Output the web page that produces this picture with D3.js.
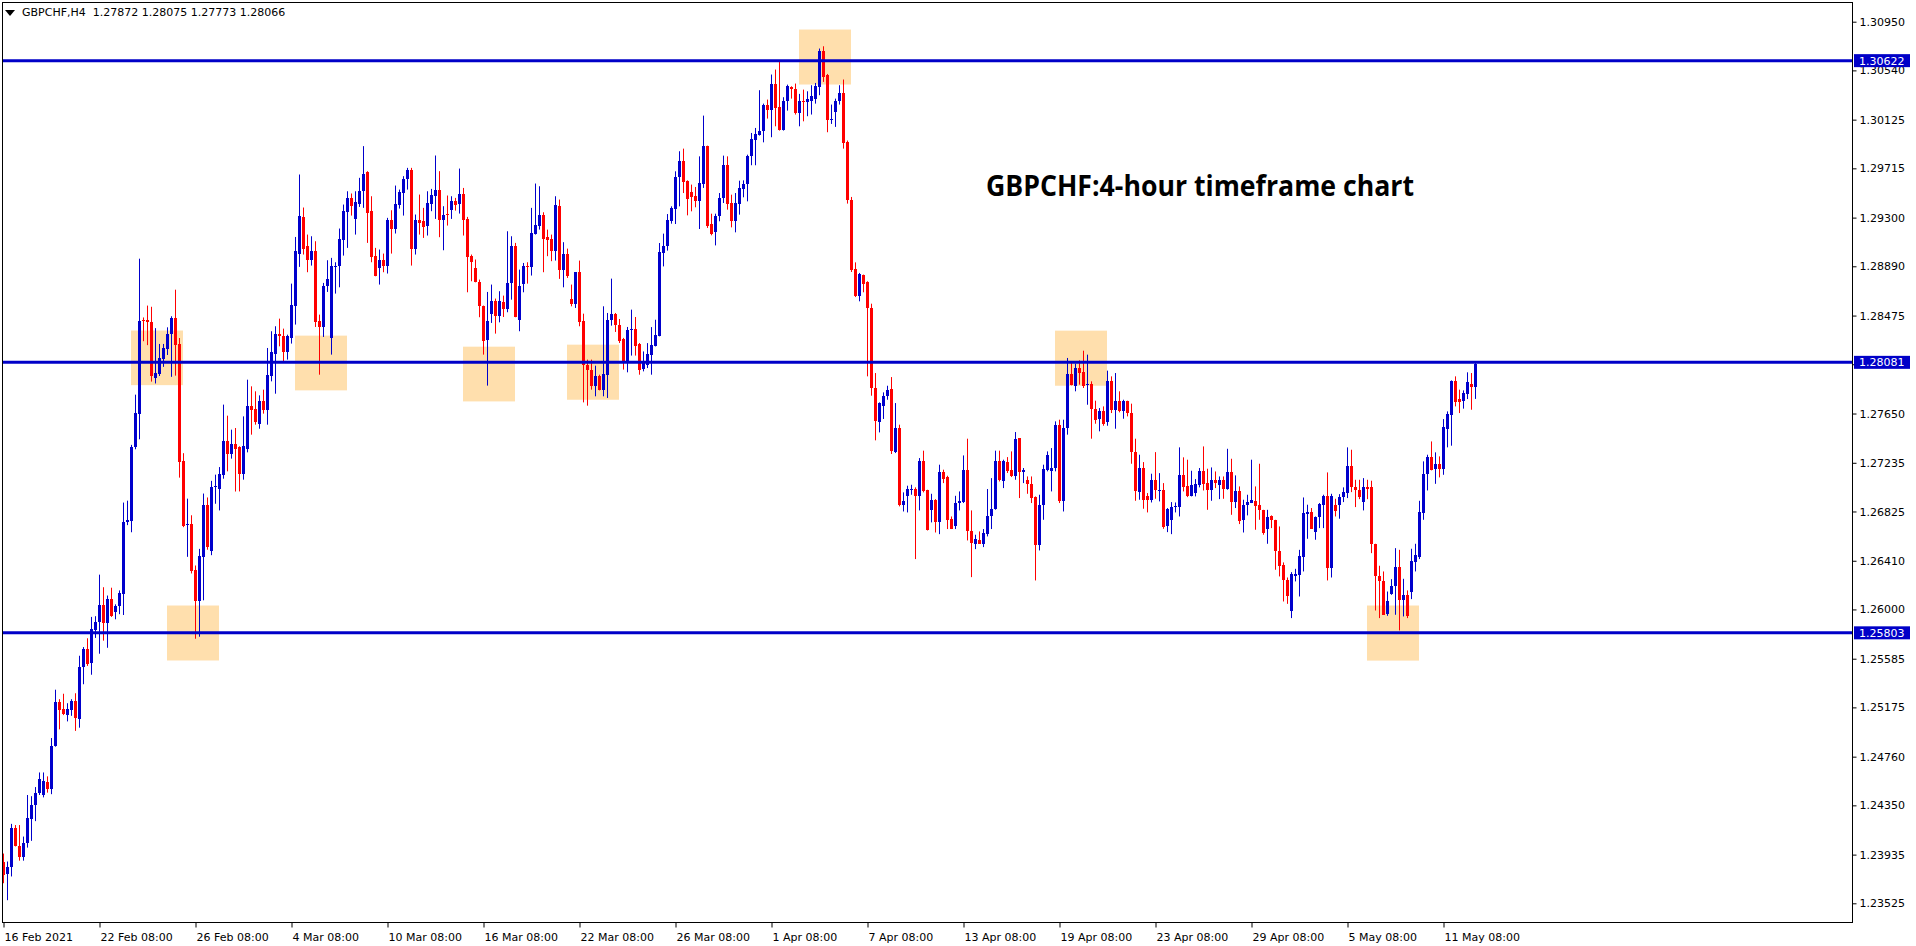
<!DOCTYPE html>
<html><head><meta charset="utf-8">
<script src="https://cdn.jsdelivr.net/npm/d3@7"></script>
<style>
html,body{margin:0;padding:0;background:#fff;overflow:hidden}
svg{display:block}
</style></head>
<body>
<svg id="chart" width="1916" height="946"></svg>
<script>
// ---- Data (GBPCHF H4) ----
const opens = [
1.23877,1.23771,1.23828,1.24161,1.24004,1.23911,1.24037,1.24237,1.24351,1.24451,
1.24437,1.24544,1.24491,1.24850,1.25217,1.25160,1.25110,1.25157,1.25230,1.25077,
1.25517,1.25667,1.25550,1.25827,1.25893,1.26040,1.25883,1.26090,1.25977,1.26033,
1.26133,1.26736,1.26743,1.27366,1.27643,1.28436,1.28436,1.28419,1.27953,1.27986,
1.28109,1.28193,1.28316,1.28452,1.28236,1.27253,1.26713,1.26716,1.26333,1.26073,
1.26443,1.26883,1.26493,1.27028,1.27017,1.27135,1.27421,1.27312,1.27396,1.27365,
1.27143,1.27354,1.27711,1.27691,1.27565,1.27753,1.27683,1.27969,1.28155,1.28323,
1.28306,1.28166,1.28286,1.28559,1.28997,1.29303,1.29064,1.28941,1.29017,1.28427,
1.28376,1.28727,1.28286,1.28890,1.28890,1.29115,1.29345,1.29461,1.29289,1.29418,
1.29522,1.29682,1.29354,1.28980,1.28876,1.28947,1.28896,1.29278,1.29208,1.29410,
1.29508,1.29629,1.29705,1.29039,1.29278,1.29270,1.29227,1.29418,1.29486,1.29536,
1.29278,1.29334,1.29362,1.29438,1.29418,1.29503,1.29292,1.28975,1.28876,1.28758,
1.28559,1.28267,1.28491,1.28595,1.28469,1.28590,1.28534,1.28750,1.29064,1.28435,
1.28744,1.28896,1.28885,1.29166,1.29233,1.29326,1.29135,1.29121,1.29017,1.29402,
1.28862,1.28997,1.28618,1.28576,1.28840,1.28427,1.28062,1.28014,1.27879,1.27963,
1.27851,1.27977,1.28435,1.28491,1.28399,1.28281,1.28076,1.28351,1.28365,1.28236,
1.28027,1.28061,1.28145,1.28221,1.28300,1.29002,1.29058,1.29274,1.29373,1.29640,
1.29780,1.29606,1.29516,1.29485,1.29443,1.29586,1.29906,1.29246,1.29176,1.29311,
1.29465,1.29746,1.29423,1.29269,1.29418,1.29544,1.29583,1.29816,1.29957,1.29993,
1.30027,1.30252,1.30204,1.30429,1.30229,1.30041,1.30280,1.30398,1.30387,1.30182,
1.30286,1.30271,1.30280,1.30302,1.30398,1.30701,1.30499,1.30123,1.30187,1.30280,
1.30350,1.29934,1.29451,1.28870,1.28643,1.28820,1.28755,1.28539,1.27865,1.27575,
1.27716,1.27794,1.27856,1.27325,1.27528,1.26882,1.26952,1.27002,1.27017,1.26958,
1.27247,1.27008,1.26834,1.26924,1.26733,1.27154,1.27112,1.26761,1.26705,1.26896,
1.26901,1.27171,1.26662,1.26553,1.26581,1.26553,1.26637,1.26783,1.26845,1.27247,
1.27078,1.27238,1.27171,1.27120,1.27443,1.27157,1.27092,1.27059,1.26946,1.26539,
1.26876,1.27177,1.27163,1.27191,1.27550,1.26910,1.27528,1.27985,1.27879,1.28033,
1.27999,1.27887,1.27901,1.27691,1.27603,1.27674,1.27575,1.27921,1.27677,1.27758,
1.27668,1.27752,1.27654,1.27325,1.26986,1.27191,1.26957,1.26924,1.27092,1.26994,
1.27008,1.26699,1.26750,1.26859,1.26859,1.27134,1.27036,1.26952,1.26980,1.27050,
1.27168,1.27064,1.27002,1.27092,1.27050,1.27092,1.27016,1.27160,1.26901,1.27000,
1.26750,1.26882,1.26896,1.26915,1.26876,1.26834,1.26679,1.26783,1.26755,1.26494,
1.26376,1.26250,1.25983,1.26283,1.26292,1.26438,1.26806,1.26817,1.26648,1.26775,
1.26876,1.26952,1.26353,1.26876,1.26876,1.26943,1.26980,1.27205,1.27030,1.27008,
1.26901,1.27028,1.27028,1.26553,1.26283,1.26241,1.25963,1.26129,1.26194,1.26356,
1.26081,1.26123,1.26151,1.26396,1.26441,1.26811,1.27143,1.27280,1.27185,1.27227,
1.27185,1.27522,1.27640,1.27921,1.27775,1.27752,1.27817,1.27901,1.27872];

const highs = [
1.23944,1.23877,1.24194,1.24184,1.24184,1.24087,1.24437,1.24427,1.24504,1.24627,
1.24627,1.24594,1.24917,1.25324,1.25244,1.25290,1.25210,1.25244,1.25294,1.25610,
1.25683,1.25757,1.25937,1.25943,1.26293,1.26187,1.26117,1.26183,1.26043,1.26160,
1.26900,1.26916,1.27386,1.27809,1.28954,1.28459,1.28559,1.28549,1.28369,1.28236,
1.28236,1.28376,1.28469,1.28693,1.28286,1.27316,1.26933,1.26793,1.26370,1.26510,
1.26976,1.26943,1.27083,1.27135,1.27199,1.27725,1.27632,1.27514,1.27528,1.27374,
1.27626,1.27935,1.27879,1.27837,1.27803,1.27851,1.28202,1.28343,1.28385,1.28449,
1.28365,1.28314,1.28744,1.29137,1.29663,1.29385,1.29157,1.29143,1.29101,1.28483,
1.28750,1.28941,1.28961,1.28924,1.29208,1.29410,1.29522,1.29503,1.29522,1.29635,
1.29902,1.29691,1.29480,1.29045,1.29031,1.28997,1.29298,1.29362,1.29570,1.29536,
1.29649,1.29719,1.29719,1.29326,1.29494,1.29382,1.29522,1.29542,1.29823,1.29691,
1.29396,1.29486,1.29480,1.29466,1.29713,1.29550,1.29306,1.28989,1.28947,1.28778,
1.28559,1.28674,1.28736,1.28618,1.28680,1.28643,1.29185,1.29143,1.29087,1.28862,
1.28918,1.28924,1.29382,1.29587,1.29564,1.29345,1.29199,1.29157,1.29480,1.29452,
1.29093,1.29039,1.28736,1.28840,1.28938,1.28491,1.28104,1.28104,1.28053,1.27977,
1.28553,1.28497,1.28786,1.28497,1.28446,1.28287,1.28379,1.28525,1.28463,1.28244,
1.28173,1.28243,1.28378,1.28440,1.29086,1.29165,1.29330,1.29395,1.29690,1.29859,
1.29881,1.29614,1.29578,1.29558,1.29816,1.30159,1.29906,1.29333,1.29333,1.29507,
1.29822,1.29816,1.29493,1.29507,1.29611,1.29614,1.29830,1.30013,1.30055,1.30373,
1.30260,1.30294,1.30505,1.30547,1.30623,1.30314,1.30420,1.30406,1.30429,1.30342,
1.30378,1.30364,1.30415,1.30434,1.30724,1.30743,1.30510,1.30252,1.30302,1.30415,
1.30463,1.29949,1.29474,1.28923,1.28834,1.28820,1.28764,1.28575,1.27991,1.27744,
1.27828,1.27884,1.27957,1.27738,1.27556,1.26986,1.27042,1.27050,1.27028,1.27275,
1.27337,1.27008,1.26974,1.26929,1.27219,1.27177,1.27126,1.26783,1.26957,1.26994,
1.27297,1.27438,1.26834,1.26629,1.26657,1.26677,1.27014,1.27106,1.27337,1.27337,
1.27261,1.27283,1.27331,1.27494,1.27443,1.27191,1.27120,1.27120,1.26952,1.26966,
1.27219,1.27331,1.27359,1.27584,1.27598,1.27598,1.28118,1.28075,1.28070,1.28098,
1.28179,1.28146,1.27921,1.27758,1.27696,1.27710,1.28011,1.27963,1.27991,1.27837,
1.27766,1.27758,1.27733,1.27438,1.27303,1.27241,1.26980,1.27143,1.27325,1.27148,
1.27064,1.26854,1.26904,1.26901,1.27365,1.27281,1.27261,1.27168,1.27098,1.27191,
1.27373,1.27185,1.27196,1.27162,1.27120,1.27120,1.27353,1.27269,1.27129,1.27036,
1.26924,1.26966,1.27261,1.27036,1.27227,1.26839,1.26839,1.26792,1.26755,1.26699,
1.26396,1.26269,1.26314,1.26342,1.26502,1.26943,1.26882,1.26854,1.26783,1.26896,
1.26966,1.27154,1.26974,1.26932,1.26971,1.27028,1.27365,1.27345,1.27092,1.27092,
1.27106,1.27092,1.27084,1.26553,1.26368,1.26320,1.26151,1.26255,1.26516,1.26502,
1.26258,1.26160,1.26511,1.26553,1.26915,1.27247,1.27303,1.27415,1.27323,1.27289,
1.27603,1.27668,1.27929,1.27963,1.27851,1.27845,1.27997,1.27991,1.28075];

const lows = [
1.23694,1.23551,1.23751,1.24004,1.23884,1.23884,1.23994,1.24051,1.24217,1.24437,
1.24417,1.24457,1.24444,1.24844,1.24990,1.25110,1.25057,1.25104,1.24977,1.25004,
1.25370,1.25524,1.25450,1.25760,1.25627,1.25737,1.25677,1.25937,1.25917,1.25960,
1.25953,1.26710,1.26650,1.27349,1.27433,1.28259,1.28226,1.27919,1.27903,1.27966,
1.28043,1.28143,1.27959,1.27969,1.27110,1.26693,1.26443,1.26303,1.25753,1.25770,
1.26077,1.26503,1.26457,1.26890,1.26834,1.27101,1.27163,1.27270,1.26993,1.26994,
1.27093,1.27323,1.27472,1.27556,1.27522,1.27649,1.27556,1.27921,1.27817,1.28216,
1.28090,1.28104,1.28239,1.28399,1.28885,1.28989,1.28840,1.28896,1.28379,1.27977,
1.28295,1.28674,1.28146,1.28660,1.28713,1.28980,1.29045,1.29317,1.29157,1.29390,
1.29382,1.29087,1.28924,1.28806,1.28736,1.28840,1.28829,1.28997,1.29166,1.29376,
1.29317,1.29536,1.28896,1.28989,1.29157,1.29129,1.29149,1.29354,1.29289,1.29135,
1.29025,1.29233,1.29289,1.29359,1.29334,1.29149,1.28671,1.28764,1.28755,1.28461,
1.28146,1.27885,1.28413,1.28323,1.28418,1.28463,1.28503,1.28609,1.28461,1.28343,
1.28671,1.28744,1.28812,1.29157,1.29199,1.28840,1.28975,1.28933,1.28938,1.28784,
1.28713,1.28792,1.28553,1.28539,1.28385,1.27744,1.27716,1.27851,1.27795,1.27845,
1.27795,1.27781,1.28390,1.28337,1.28244,1.28020,1.27997,1.28138,1.28138,1.27977,
1.28005,1.28033,1.27977,1.28215,1.28300,1.28889,1.29022,1.29249,1.29246,1.29395,
1.29507,1.29319,1.29353,1.29387,1.29204,1.29550,1.29213,1.29151,1.29066,1.29269,
1.29423,1.29367,1.29218,1.29176,1.29325,1.29471,1.29437,1.29741,1.29741,1.29991,
1.29934,1.30134,1.29977,1.30069,1.30033,1.30033,1.30201,1.30302,1.30168,1.30069,
1.30111,1.30154,1.30168,1.30260,1.30331,1.30443,1.30019,1.30089,1.30064,1.30252,
1.29881,1.29418,1.28842,1.28631,1.28595,1.28671,1.27963,1.27800,1.27424,1.27491,
1.27604,1.27766,1.27309,1.27317,1.26868,1.26825,1.26817,1.26966,1.26424,1.26834,
1.26986,1.26665,1.26733,1.26648,1.26634,1.27064,1.26677,1.26677,1.26677,1.26834,
1.26896,1.26581,1.26272,1.26508,1.26553,1.26525,1.26615,1.26677,1.26840,1.27078,
1.27022,1.27149,1.27115,1.27092,1.26938,1.27064,1.26974,1.26896,1.26244,1.26497,
1.26755,1.27163,1.26994,1.27163,1.26896,1.26825,1.27472,1.27887,1.27837,1.27893,
1.27865,1.27724,1.27438,1.27564,1.27500,1.27547,1.27547,1.27654,1.27522,1.27660,
1.27606,1.27626,1.27227,1.26915,1.26924,1.26848,1.26817,1.26901,1.26932,1.26910,
1.26679,1.26651,1.26634,1.26817,1.26783,1.26994,1.26946,1.26952,1.26952,1.27028,
1.27002,1.26839,1.26915,1.27022,1.26929,1.26932,1.27008,1.26797,1.26854,1.26719,
1.26648,1.26792,1.26896,1.26671,1.26755,1.26629,1.26553,1.26685,1.26334,1.26278,
1.26067,1.26047,1.25927,1.26236,1.26109,1.26320,1.26595,1.26679,1.26587,1.26685,
1.26685,1.26244,1.26269,1.26783,1.26764,1.26904,1.26938,1.26988,1.26862,1.26929,
1.26834,1.26929,1.26474,1.25991,1.25927,1.25955,1.25946,1.26123,1.25955,1.25823,
1.25941,1.25927,1.26087,1.26320,1.26424,1.26755,1.27002,1.27171,1.27058,1.27112,
1.27134,1.27365,1.27379,1.27710,1.27654,1.27691,1.27772,1.27682,1.27773];

const closes = [
1.23761,1.23828,1.24161,1.24011,1.23911,1.24037,1.24244,1.24351,1.24451,1.24571,
1.24557,1.24491,1.24850,1.25217,1.25157,1.25117,1.25160,1.25230,1.25084,1.25517,
1.25667,1.25537,1.25837,1.25893,1.26040,1.25883,1.26090,1.25943,1.26027,1.26140,
1.26736,1.26750,1.27369,1.27656,1.28432,1.28426,1.28422,1.27966,1.27993,1.28116,
1.28202,1.28322,1.28452,1.28226,1.27243,1.26700,1.26723,1.26327,1.26067,1.26450,
1.26883,1.26523,1.27033,1.27036,1.27140,1.27421,1.27312,1.27396,1.27354,1.27143,
1.27374,1.27711,1.27683,1.27579,1.27753,1.27683,1.27977,1.28166,1.28323,1.28306,
1.28166,1.28300,1.28567,1.29017,1.29312,1.29039,1.28947,1.29017,1.28418,1.28376,
1.28727,1.28786,1.28896,1.28896,1.29124,1.29354,1.29461,1.29402,1.29430,1.29528,
1.29671,1.29340,1.28969,1.28806,1.28947,1.28896,1.29278,1.29208,1.29418,1.29514,
1.29629,1.29705,1.29039,1.29278,1.29255,1.29222,1.29424,1.29494,1.29536,1.29278,
1.29326,1.29320,1.29438,1.29410,1.29503,1.29278,1.28966,1.28924,1.28755,1.28553,
1.28264,1.28427,1.28595,1.28469,1.28595,1.28534,1.28750,1.29064,1.28461,1.28727,
1.28896,1.28882,1.29171,1.29241,1.29326,1.29121,1.29115,1.29017,1.29410,1.28862,
1.28997,1.28806,1.28576,1.28840,1.28418,1.28056,1.28014,1.27879,1.27963,1.27851,
1.27986,1.28441,1.28491,1.28393,1.28264,1.28076,1.28357,1.28365,1.28222,1.28014,
1.28075,1.28151,1.28229,1.28314,1.29010,1.29064,1.29283,1.29381,1.29642,1.29780,
1.29600,1.29457,1.29471,1.29443,1.29592,1.29906,1.29232,1.29162,1.29316,1.29465,
1.29746,1.29418,1.29274,1.29423,1.29550,1.29583,1.29822,1.29965,1.30007,1.30033,
1.30252,1.30204,1.30429,1.30224,1.30041,1.30286,1.30406,1.30384,1.30182,1.30286,
1.30271,1.30302,1.30322,1.30406,1.30701,1.30485,1.30125,1.30134,1.30286,1.30350,
1.29929,1.29446,1.28856,1.28642,1.28825,1.28741,1.28539,1.27865,1.27584,1.27738,
1.27800,1.27851,1.27331,1.27528,1.26876,1.26910,1.27014,1.27017,1.26952,1.27247,
1.26994,1.26665,1.26924,1.26733,1.27154,1.27101,1.26755,1.26677,1.26896,1.26910,
1.27171,1.26657,1.26558,1.26592,1.26553,1.26643,1.26789,1.26845,1.27247,1.27087,
1.27247,1.27163,1.27120,1.27438,1.27157,1.27177,1.27056,1.26938,1.26539,1.26882,
1.27185,1.27303,1.27191,1.27550,1.26910,1.27528,1.27985,1.27893,1.28033,1.27991,
1.27879,1.27901,1.27691,1.27598,1.27674,1.27564,1.27927,1.27682,1.27752,1.27668,
1.27752,1.27654,1.27323,1.26994,1.27191,1.26918,1.26918,1.27092,1.27002,1.27008,
1.26693,1.26845,1.26862,1.26868,1.27134,1.27028,1.26952,1.27050,1.27056,1.27162,
1.27059,1.27002,1.27092,1.27064,1.27092,1.27016,1.27160,1.26901,1.27000,1.26741,
1.26882,1.26904,1.26924,1.26868,1.26834,1.26643,1.26775,1.26750,1.26488,1.26370,
1.26244,1.26109,1.26300,1.26300,1.26446,1.26811,1.26820,1.26679,1.26778,1.26887,
1.26952,1.26353,1.26952,1.26825,1.26943,1.26985,1.27205,1.27030,1.27002,1.26946,
1.27028,1.27016,1.26550,1.26278,1.26236,1.25955,1.26073,1.26199,1.26356,1.26081,
1.26123,1.25941,1.26404,1.26460,1.26817,1.27143,1.27280,1.27171,1.27227,1.27185,
1.27533,1.27648,1.27921,1.27744,1.27747,1.27823,1.27912,1.27873,1.28066];

const xLabels = ["16 Feb 2021","22 Feb 08:00","26 Feb 08:00","4 Mar 08:00","10 Mar 08:00","16 Mar 08:00",
  "22 Mar 08:00","26 Mar 08:00","1 Apr 08:00","7 Apr 08:00","13 Apr 08:00","19 Apr 08:00",
  "23 Apr 08:00","29 Apr 08:00","5 May 08:00","11 May 08:00"];
const xLabelBars = [0,24,48,72,96,120,144,168,192,216,240,264,288,312,336,360];
const yTicks = [1.30950,1.30540,1.30125,1.29715,1.29300,1.28890,1.28475,1.28065,1.27650,1.27235,
  1.26825,1.26410,1.26000,1.25585,1.25175,1.24760,1.24350,1.23935,1.23525];
const levels = [1.30622, 1.28081, 1.25803];
// highlighted zones: [fromBar, toBar, topPrice, bottomPrice]
const zoneFrom = [32, 41, 73, 115, 141, 199, 263, 341];
const zoneTo   = [45, 54, 86, 128, 154, 212, 276, 354];
const zoneTop  = [1.28349, 1.26033, 1.28306, 1.28213, 1.28230, 1.30884, 1.28348, 1.26033];
const zoneBot  = [1.27889, 1.25570, 1.27845, 1.27752, 1.27766, 1.30421, 1.27884, 1.25569];
const symbolText = "GBPCHF,H4  1.27872 1.28075 1.27773 1.28066";
const titleText = "GBPCHF:4-hour timeframe chart";

// ---- Layout ----
const W = 1916, H = 946;
const plot = {left: 2, top: 2, right: 1852, bottom: 922};
const BLUE = "#0000CC", RED = "#FF0000", LINE = "#0000C8";
const AXFONT = "'DejaVu Sans', Verdana, sans-serif";

const svg = d3.select("#chart");
const x = d3.scaleLinear().domain([0, 368]).range([3, 1475]);
const y = d3.scaleLinear().domain([1.23525, 1.30950]).range([903.3, 21.7]);

svg.append("rect").attr("width", W).attr("height", H).attr("fill", "#fff");

const clip = svg.append("clipPath").attr("id", "pclip").append("rect")
  .attr("x", plot.left).attr("y", plot.top)
  .attr("width", plot.right - plot.left).attr("height", plot.bottom - plot.top);

const g = svg.append("g").attr("clip-path", "url(#pclip)");

// zones
g.selectAll("rect.zone").data(zoneFrom).join("rect")
  .attr("x", (d, i) => x(zoneFrom[i]))
  .attr("width", (d, i) => x(zoneTo[i]) - x(zoneFrom[i]))
  .attr("y", (d, i) => y(zoneTop[i]))
  .attr("height", (d, i) => y(zoneBot[i]) - y(zoneTop[i]))
  .attr("fill", "#FFDFAD");

// candles
const idx = d3.range(opens.length);
const col = i => closes[i] >= opens[i] ? BLUE : RED;
g.selectAll("line.wick").data(idx).join("line")
  .attr("x1", i => Math.round(x(i)) + 0.5).attr("x2", i => Math.round(x(i)) + 0.5)
  .attr("y1", i => y(highs[i])).attr("y2", i => y(lows[i]))
  .attr("stroke", col).attr("stroke-width", 1);
g.selectAll("rect.body").data(idx).join("rect")
  .attr("x", i => Math.round(x(i)) - 1)
  .attr("width", 3)
  .attr("y", i => y(Math.max(opens[i], closes[i])))
  .attr("height", i => Math.max(1, Math.abs(y(opens[i]) - y(closes[i]))))
  .attr("fill", col).attr("shape-rendering", "crispEdges");

// horizontal levels
g.selectAll("line.level").data(levels).join("line")
  .attr("x1", plot.left).attr("x2", plot.right)
  .attr("y1", d => y(d)).attr("y2", d => y(d))
  .attr("stroke", LINE).attr("stroke-width", 3);

// frame
svg.append("rect")
  .attr("x", plot.left + 0.5).attr("y", plot.top + 0.5)
  .attr("width", plot.right - plot.left).attr("height", plot.bottom - plot.top)
  .attr("fill", "none").attr("stroke", "#000").attr("stroke-width", 1);

// y axis (right)
const yAxis = d3.axisRight(y).tickValues(yTicks).tickFormat(d3.format(".5f")).tickSize(4).tickPadding(3);
const ya = svg.append("g").attr("transform", `translate(${plot.right + 0.5},0)`).call(yAxis);
ya.select(".domain").remove();
ya.selectAll("text").attr("font-family", AXFONT).attr("font-size", 11).attr("fill", "#000");
ya.selectAll("line").attr("stroke", "#000");

// x axis
const xAxis = d3.axisBottom(x).tickValues(xLabelBars).tickFormat((d, i) => xLabels[i]).tickSize(5).tickPadding(3);
const xa = svg.append("g").attr("transform", `translate(0,${plot.bottom + 0.5})`).call(xAxis);
xa.select(".domain").remove();
xa.selectAll("line").attr("stroke", "#000").attr("transform", "translate(0.5,0)");
xa.selectAll("text").attr("font-family", AXFONT).attr("font-size", 11).attr("fill", "#000")
  .attr("text-anchor", "start").attr("x", 1).attr("dy", "0.95em");

// level price tags
const tags = svg.append("g");
levels.forEach(v => {
  tags.append("rect").attr("x", plot.right + 2).attr("y", y(v) - 6.5)
    .attr("width", 56).attr("height", 13).attr("fill", LINE);
  tags.append("text").attr("x", plot.right + 7).attr("y", y(v)).attr("dy", "0.36em")
    .attr("font-family", AXFONT).attr("font-size", 11).attr("fill", "#fff")
    .text(d3.format(".5f")(v));
});

// symbol header
svg.append("path").attr("d", "M5,10 L15,10 L10,16 Z").attr("fill", "#000");
svg.append("text").attr("x", 22).attr("y", 16)
  .attr("font-family", AXFONT).attr("font-size", 11).attr("fill", "#000")
  .attr("xml:space", "preserve").style("white-space", "pre")
  .text(symbolText);

// title
svg.append("text").attr("x", 986).attr("y", 196)
  .attr("font-family", "'Open Sans', 'Noto Sans', sans-serif").attr("font-weight", "bold")
  .attr("font-size", 28).attr("fill", "#000")
  .attr("textLength", 428).attr("lengthAdjust", "spacingAndGlyphs")
  .text(titleText);
</script>
</body></html>
